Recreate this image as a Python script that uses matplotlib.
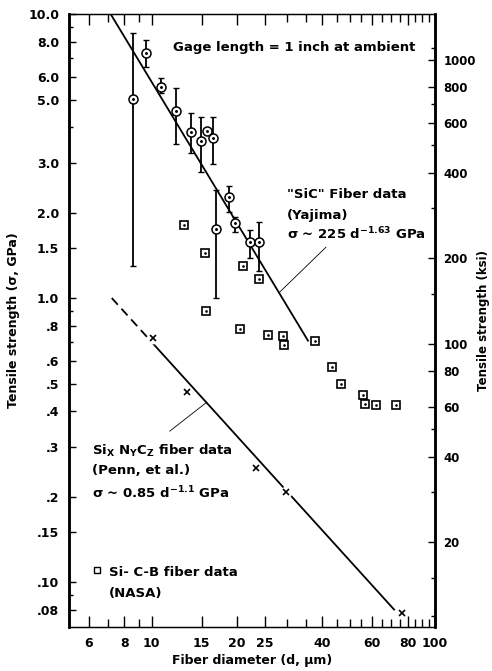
import matplotlib
matplotlib.use("Agg")
import matplotlib.pyplot as plt  # noqa: E402
import numpy as np  # noqa: E402
from matplotlib.ticker import FixedFormatter, FixedLocator  # noqa: E402

plt.rcParams["font.family"] = ["DejaVu Sans"]
plt.rcParams["font.weight"] = "bold"
plt.rcParams["axes.labelweight"] = "bold"
plt.rcParams["mathtext.fontset"] = "dejavusans"
plt.rcParams["mathtext.default"] = "bf"

GPA_TO_KSI = 145.04

# "SiC" fiber data (Yajima): diameter (um), strength (GPa), error bar ends
sic_d = [8.57, 9.52, 10.76, 12.15, 13.74, 14.9, 15.64, 16.43, 16.83, 18.72, 19.64, 22.2, 23.9]
sic_s = [5.02, 7.29, 5.53, 4.55, 3.84, 3.57, 3.87, 3.66, 1.75, 2.27, 1.84, 1.575, 1.575]
sic_lo = [1.30, 6.52, 5.27, 3.49, 3.24, 2.78, 3.87, 2.96, 1.00, 2.01, 1.71, 1.38, 1.25]
sic_hi = [8.57, 8.09, 5.95, 5.49, 4.48, 4.34, 3.87, 4.34, 2.40, 2.48, 1.93, 1.74, 1.85]

# Si-C-B fiber data (NASA)
sicb_d = [12.97, 15.4, 15.52, 20.98, 23.9, 20.46, 25.7, 29.0, 29.2, 37.7, 43.3, 46.6, 55.7, 56.6, 61.9, 72.9]
sicb_s = [1.81, 1.44, 0.90, 1.30, 1.17, 0.778, 0.741, 0.735, 0.683, 0.706, 0.571, 0.498, 0.455, 0.423, 0.42, 0.42]

# SixNyCz fiber data (Penn, et al.)
penn_d = [10.08, 13.3, 23.3, 29.7, 76.4]
penn_s = [0.723, 0.467, 0.252, 0.207, 0.0776]

# power-law fits as drawn: sigma = A * d**-b
SIC_FIT = (257.0, 1.65)
SIC_FIT_RANGE = (7.15, 35.6)
PENN_FIT = (8.8, 1.1)
PENN_DASH_RANGE = (7.22, 9.8)
PENN_SOLID_RANGE = (9.8, 71.7)

x_ticks = [6, 8, 10, 15, 20, 25, 40, 60, 80, 100]
x_minor = [7, 9, 30, 35, 45, 50, 55, 65, 70, 75, 85, 90, 95]
y_ticks = [10, 8, 6, 5, 3, 2, 1.5, 1, 0.8, 0.6, 0.5, 0.4, 0.3, 0.2, 0.15, 0.1, 0.08]
y_labels = ["10.0", "8.0", "6.0", "5.0", "3.0", "2.0", "1.5", "1.0", ".8", ".6", ".5", ".4",
            ".3", ".2", ".15", ".10", ".08"]
y_minor = [9, 7, 4, 0.9, 0.7, 0.09]
ksi_ticks = [1000, 800, 600, 400, 200, 100, 80, 60, 40, 20]
ksi_minor = [1100, 700, 500, 300, 150, 50, 30, 15, 11]


def fit_line(fit, rng):
    d = np.geomspace(rng[0], rng[1], 50)
    return d, fit[0] * d ** -fit[1]


fig = plt.figure(figsize=(4.92, 6.71), dpi=100)
ax = fig.add_axes([69 / 492, 44 / 671, 366 / 492, 613 / 671])
ax.set_xscale("log")
ax.set_yscale("log")
ax.set_xlim(5.1, 100)
ax.set_ylim(0.0695, 10)

# fit lines
d, s = fit_line(SIC_FIT, SIC_FIT_RANGE)
ax.plot(d, s, color="k", lw=1.3, zorder=3)
d, s = fit_line(PENN_FIT, PENN_DASH_RANGE)
ax.plot(d, s, color="k", lw=1.3, ls=(0, (5, 3)), zorder=3)
d, s = fit_line(PENN_FIT, PENN_SOLID_RANGE)
ax.plot(d, s, color="k", lw=1.3, zorder=3)

# leader lines to the labels
ax.plot([28.3, 41.2], [1.05, 1.51], color="k", lw=0.6, zorder=3)
ax.plot([15.64, 11.57], [0.430, 0.340], color="k", lw=0.6, zorder=3)

# SiC with error bars
sic_s_arr = np.array(sic_s)
yerr = [sic_s_arr - np.array(sic_lo), np.array(sic_hi) - sic_s_arr]
ax.errorbar(sic_d, sic_s, yerr=yerr, fmt="none", ecolor="k", elinewidth=1.3,
            capsize=2.5, capthick=1.0, zorder=2)
ax.plot(sic_d, sic_s, "o", mfc="white", mec="k", ms=6.5, mew=1.1, zorder=4)
ax.plot(sic_d, sic_s, "o", color="k", ms=1.1, zorder=5)

# Si-C-B squares
ax.plot(sicb_d, sicb_s, "s", mfc="white", mec="k", ms=5.2, mew=1.2, zorder=4)
ax.plot(sicb_d, sicb_s, "o", color="k", ms=0.9, zorder=5)

# Penn crosses (white blob breaks the line under the marker)
ax.plot(penn_d, penn_s, "o", color="white", ms=7.5, zorder=4)
ax.plot(penn_d, penn_s, "x", color="k", ms=5, mew=1.2, zorder=5)

# axis ticks
ax.xaxis.set_major_locator(FixedLocator(x_ticks))
ax.xaxis.set_major_formatter(FixedFormatter([str(v) for v in x_ticks]))
ax.xaxis.set_minor_locator(FixedLocator(x_minor))
ax.xaxis.set_minor_formatter(FixedFormatter([]))
ax.yaxis.set_major_locator(FixedLocator(y_ticks))
ax.yaxis.set_major_formatter(FixedFormatter(y_labels))
ax.yaxis.set_minor_locator(FixedLocator(y_minor))
ax.yaxis.set_minor_formatter(FixedFormatter([]))
ax.tick_params(which="both", direction="in", top=True, right=False, labelsize=9, pad=7)
ax.tick_params(axis="x", which="major", length=8, width=1.0)
ax.tick_params(axis="x", which="minor", length=6, width=1.0)
ax.tick_params(axis="y", which="major", length=5, width=1.0)
ax.tick_params(axis="y", which="minor", length=3, width=1.0)

ax2 = ax.twinx()
ax2.set_yscale("log")
ax2.set_ylim(0.0695 * GPA_TO_KSI, 10 * GPA_TO_KSI)
ax2.yaxis.set_major_locator(FixedLocator(ksi_ticks))
ax2.yaxis.set_major_formatter(FixedFormatter([str(v) for v in ksi_ticks]))
ax2.yaxis.set_minor_locator(FixedLocator(ksi_minor))
ax2.yaxis.set_minor_formatter(FixedFormatter([]))
ax2.tick_params(which="both", direction="in", labelsize=8.5, pad=6)
ax2.tick_params(which="major", length=5, width=1.0)
ax2.tick_params(which="minor", length=3, width=1.0)

for a in (ax, ax2):
    a.spines["left"].set_linewidth(1.8)
    a.spines["right"].set_linewidth(1.8)
    a.spines["top"].set_linewidth(0.9)
    a.spines["bottom"].set_linewidth(0.9)

ax.set_xlabel("Fiber diameter (d, μm)", fontsize=9, labelpad=3)
ax.set_ylabel("Tensile strength (σ, GPa)", fontsize=9, labelpad=6)
ax2.set_ylabel("Tensile strength (ksi)", fontsize=8.5, labelpad=1)


# annotations, placed in axes fractions
def ax_xy(px, py):
    return (px - 69) / 366, (627 - py) / 613


kw = dict(transform=ax.transAxes, fontsize=9.5, va="center", ha="left")
ax.text(*ax_xy(173, 47), "Gage length = 1 inch at ambient", **kw)
ax.text(*ax_xy(287, 195), "\"SiC\" Fiber data", **kw)
ax.text(*ax_xy(287, 215), "(Yajima)", **kw)
ax.text(*ax_xy(287, 234), "σ ~ 225 d$^{-1.63}$ GPa", **kw)
ax.text(*ax_xy(92, 451), "Si$_X$ N$_Y$C$_Z$ fiber data", **kw)
ax.text(*ax_xy(92, 471), "(Penn, et al.)", **kw)
ax.text(*ax_xy(92, 493), "σ ~ 0.85 d$^{-1.1}$ GPa", **kw)
ax.plot(*ax_xy(97, 570), "s", mfc="white", mec="k", ms=5, mew=1.0, transform=ax.transAxes)
ax.text(*ax_xy(109, 572), "Si- C-B fiber data", **kw)
ax.text(*ax_xy(109, 593), "(NASA)", **kw)

fig.savefig("out.png", dpi=100)
